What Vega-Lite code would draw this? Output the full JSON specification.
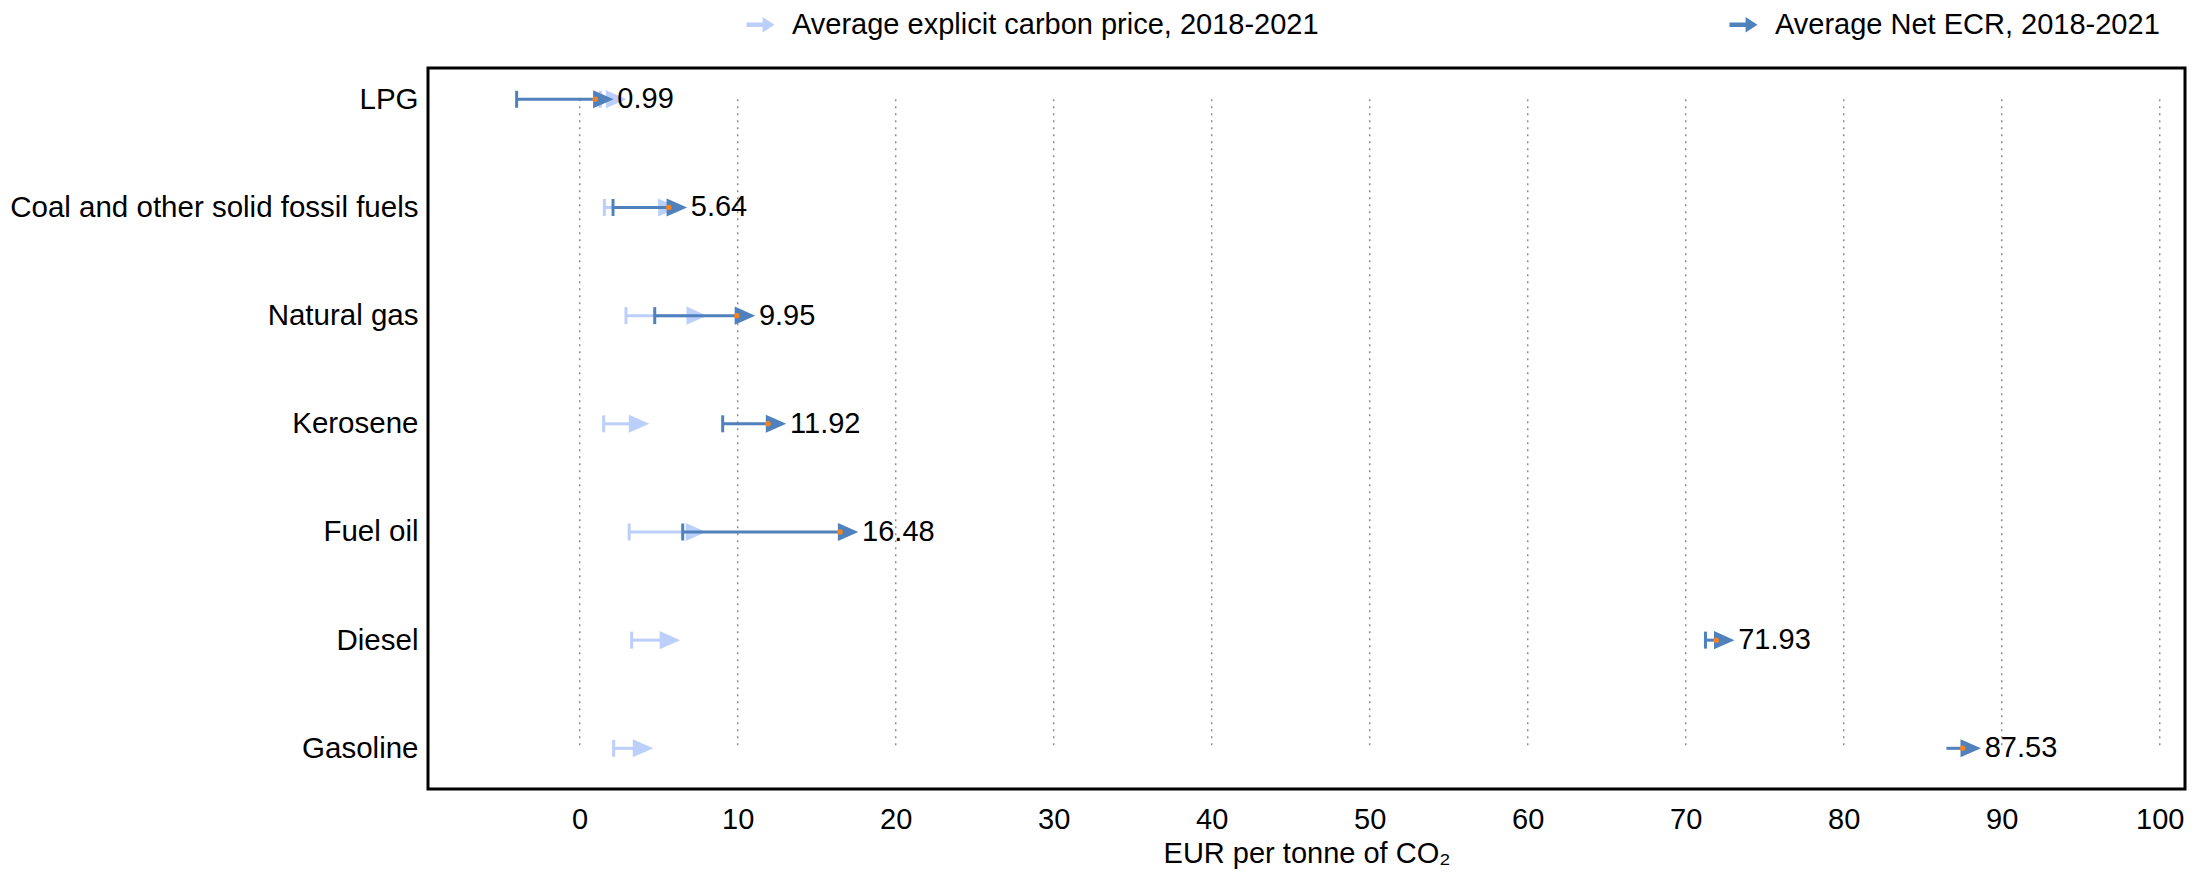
{
  "$schema": "https://vega.github.io/schema/vega-lite/v6.json",
  "autosize": "none",
  "width": 1757,
  "height": 721,
  "padding": {"left": 428, "top": 68, "right": 21, "bottom": 83},
  "config": {
    "font": "Liberation Sans",
    "view": {"stroke": "#000000", "strokeWidth": 3},
    "legend": {"padding": 0}
  },
  "datasets": {
    "rows": [
      {"fuel": "LPG", "series": "Average explicit carbon price, 2018-2021", "start": 1.3, "end": 1.8, "cap": true},
      {"fuel": "Coal and other solid fossil fuels", "series": "Average explicit carbon price, 2018-2021", "start": 1.56, "end": 5.1, "cap": true},
      {"fuel": "Natural gas", "series": "Average explicit carbon price, 2018-2021", "start": 2.93, "end": 6.9, "cap": true},
      {"fuel": "Kerosene", "series": "Average explicit carbon price, 2018-2021", "start": 1.52, "end": 3.25, "cap": true},
      {"fuel": "Fuel oil", "series": "Average explicit carbon price, 2018-2021", "start": 3.13, "end": 6.85, "cap": true},
      {"fuel": "Diesel", "series": "Average explicit carbon price, 2018-2021", "start": 3.29, "end": 5.2, "cap": true},
      {"fuel": "Gasoline", "series": "Average explicit carbon price, 2018-2021", "start": 2.15, "end": 3.5, "cap": true},
      {"fuel": "LPG", "series": "Average Net ECR, 2018-2021", "start": -3.99, "end": 0.99, "cap": true},
      {"fuel": "Coal and other solid fossil fuels", "series": "Average Net ECR, 2018-2021", "start": 2.11, "end": 5.64, "cap": true},
      {"fuel": "Natural gas", "series": "Average Net ECR, 2018-2021", "start": 4.75, "end": 9.95, "cap": true},
      {"fuel": "Kerosene", "series": "Average Net ECR, 2018-2021", "start": 9.05, "end": 11.92, "cap": true},
      {"fuel": "Fuel oil", "series": "Average Net ECR, 2018-2021", "start": 6.52, "end": 16.48, "cap": true},
      {"fuel": "Diesel", "series": "Average Net ECR, 2018-2021", "start": 71.25, "end": 71.93, "cap": true},
      {"fuel": "Gasoline", "series": "Average Net ECR, 2018-2021", "start": 86.5, "end": 87.53, "cap": false}
    ],
    "grid": [
      {"gx": 0, "top": "LPG", "bottom": "Gasoline"},
      {"gx": 10, "top": "LPG", "bottom": "Gasoline"},
      {"gx": 20, "top": "LPG", "bottom": "Gasoline"},
      {"gx": 30, "top": "LPG", "bottom": "Gasoline"},
      {"gx": 40, "top": "LPG", "bottom": "Gasoline"},
      {"gx": 50, "top": "LPG", "bottom": "Gasoline"},
      {"gx": 60, "top": "LPG", "bottom": "Gasoline"},
      {"gx": 70, "top": "LPG", "bottom": "Gasoline"},
      {"gx": 80, "top": "LPG", "bottom": "Gasoline"},
      {"gx": 90, "top": "LPG", "bottom": "Gasoline"},
      {"gx": 100, "top": "LPG", "bottom": "Gasoline"}
    ]
  },
  "encoding": {
    "y": {
      "field": "fuel",
      "type": "nominal",
      "sort": null,
      "scale": {
        "type": "point",
        "padding": 0,
        "domain": ["LPG", "Coal and other solid fossil fuels", "Natural gas", "Kerosene", "Fuel oil", "Diesel", "Gasoline"],
        "range": [31.3, 680.3]
      },
      "axis": {
        "title": null,
        "domain": false,
        "ticks": false,
        "labelFontSize": 29.5,
        "labelColor": "#000000",
        "labelPadding": 10,
        "labelLimit": 600
      }
    }
  },
  "layer": [
    {
      "data": {"name": "grid"},
      "mark": {"type": "rule", "color": "#8c8c8c", "strokeWidth": 1.5, "strokeDash": [2, 5]},
      "encoding": {
        "x": {
          "field": "gx",
          "type": "quantitative",
          "scale": {"domain": [-9.6, 101.6], "nice": false, "zero": false},
          "axis": {
            "title": "EUR per tonne of CO₂",
            "titleFontSize": 29,
            "titleFontWeight": "normal",
            "titleColor": "#000000",
            "titlePadding": 5,
            "values": [0, 10, 20, 30, 40, 50, 60, 70, 80, 90, 100],
            "grid": false,
            "domain": false,
            "ticks": false,
            "labelFontSize": 29,
            "labelColor": "#000000",
            "labelPadding": 16
          }
        },
        "y": {"field": "top", "type": "nominal"},
        "y2": {"field": "bottom"}
      }
    },
    {
      "data": {"name": "rows"},
      "transform": [{"filter": "datum.series === 'Average explicit carbon price, 2018-2021'"}],
      "mark": {"type": "rule", "strokeWidth": 3},
      "encoding": {
        "x": {"field": "start", "type": "quantitative"},
        "x2": {"field": "end"},
        "color": {
          "field": "series",
          "type": "nominal",
          "scale": {
            "domain": ["Average explicit carbon price, 2018-2021", "Average Net ECR, 2018-2021"],
            "range": ["#BCCFFA", "#4F81BD"]
          },
          "legend": {
            "title": null,
            "orient": "none",
            "direction": "horizontal",
            "legendX": 318,
            "legendY": -58,
            "labelFontSize": 29,
            "labelColor": "#000000",
            "labelOffset": 17,
            "labelLimit": 0,
            "columnPadding": 410,
            "symbolType": "M-1,-0.16L0.15,-0.16L0.15,-0.55L1,0L0.15,0.55L0.15,0.16L-1,0.16Z",
            "symbolSize": 784,
            "symbolStrokeWidth": 0,
            "symbolOpacity": 1
          }
        }
      }
    },
    {
      "data": {"name": "rows"},
      "transform": [{"filter": "datum.series === 'Average explicit carbon price, 2018-2021' && datum.cap"}],
      "mark": {"type": "tick", "orient": "vertical", "size": 17, "thickness": 3, "opacity": 1},
      "encoding": {
        "x": {"field": "start", "type": "quantitative"},
        "color": {"field": "series", "type": "nominal", "legend": null}
      }
    },
    {
      "data": {"name": "rows"},
      "transform": [{"filter": "datum.series === 'Average explicit carbon price, 2018-2021'"}],
      "mark": {"type": "point", "filled": true, "opacity": 1, "size": 441, "shape": "M-0.21,-0.86L1.74,0L-0.21,0.86Z"},
      "encoding": {
        "x": {"field": "end", "type": "quantitative"},
        "color": {"field": "series", "type": "nominal", "legend": null}
      }
    },
    {
      "data": {"name": "rows"},
      "transform": [{"filter": "datum.series === 'Average Net ECR, 2018-2021'"}],
      "mark": {"type": "rule", "strokeWidth": 3},
      "encoding": {
        "x": {"field": "start", "type": "quantitative"},
        "x2": {"field": "end"},
        "color": {"field": "series", "type": "nominal", "legend": null}
      }
    },
    {
      "data": {"name": "rows"},
      "transform": [{"filter": "datum.series === 'Average Net ECR, 2018-2021' && datum.cap"}],
      "mark": {"type": "tick", "orient": "vertical", "size": 17, "thickness": 3, "opacity": 1},
      "encoding": {
        "x": {"field": "start", "type": "quantitative"},
        "color": {"field": "series", "type": "nominal", "legend": null}
      }
    },
    {
      "data": {"name": "rows"},
      "transform": [{"filter": "datum.series === 'Average Net ECR, 2018-2021'"}],
      "mark": {"type": "point", "filled": true, "opacity": 1, "size": 441, "shape": "M-0.21,-0.86L1.74,0L-0.21,0.86Z"},
      "encoding": {
        "x": {"field": "end", "type": "quantitative"},
        "color": {"field": "series", "type": "nominal", "legend": null}
      }
    },
    {
      "data": {"name": "rows"},
      "transform": [{"filter": "datum.series === 'Average Net ECR, 2018-2021'"}],
      "mark": {"type": "circle", "color": "#F7821E", "opacity": 1, "size": 30},
      "encoding": {
        "x": {"field": "end", "type": "quantitative"}
      }
    },
    {
      "data": {"name": "rows"},
      "transform": [{"filter": "datum.series === 'Average Net ECR, 2018-2021'"}],
      "mark": {"type": "text", "align": "left", "baseline": "middle", "dx": 22, "fontSize": 29, "color": "#000000"},
      "encoding": {
        "x": {"field": "end", "type": "quantitative"},
        "text": {"field": "end", "type": "quantitative", "format": ".2f"}
      }
    }
  ]
}
